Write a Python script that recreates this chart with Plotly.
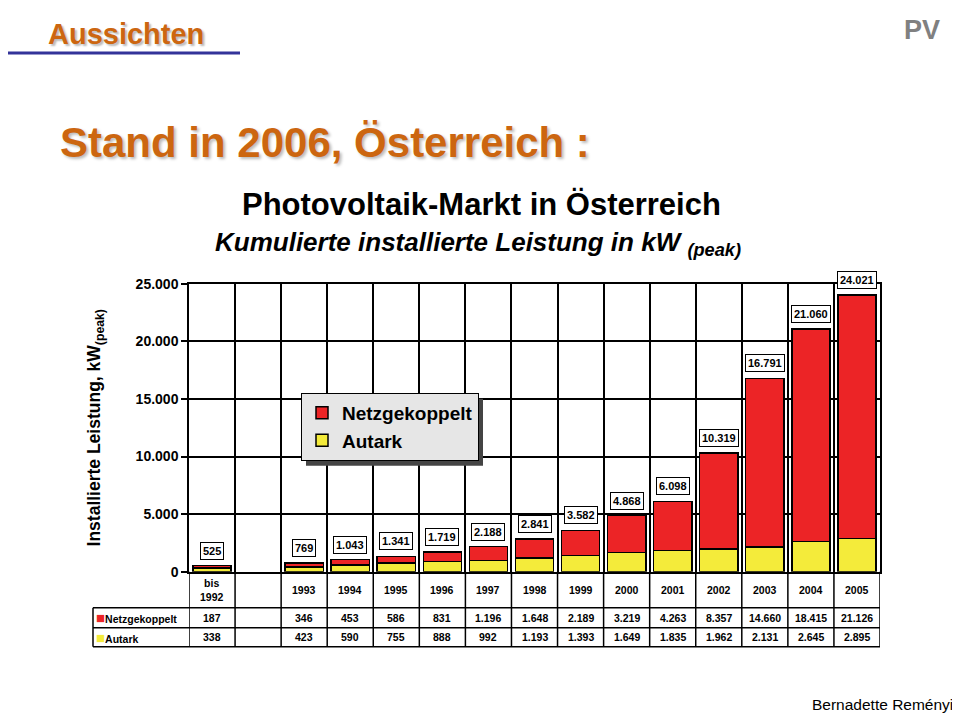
import plotly.graph_objects as go

categories = ["bis<br>1992", "", "1993", "1994", "1995", "1996", "1997", "1998",
              "1999", "2000", "2001", "2002", "2003", "2004", "2005"]
netzgekoppelt = [187, None, 346, 453, 586, 831, 1196, 1648, 2189, 3219, 4263,
                 8357, 14660, 18415, 21126]
autark = [338, None, 423, 590, 755, 888, 992, 1193, 1393, 1649, 1835, 1962,
          2131, 2645, 2895]
ytick_vals = [0, 5000, 10000, 15000, 20000, 25000]
ytick_text = ["0", "5.000", "10.000", "15.000", "20.000", "25.000"]

RED = "#EC2426"
YEL = "#F4EB3A"
ORANGE = "#CC6610"
FONT = "Arial, Liberation Sans, sans-serif"

W, H, OFF = 952, 712, 8


def px(x):
    return (x - OFF) / W


def py(y):
    # calibrated mapping from target pixel row to paper fraction
    return 1 - ((y - 7.2) / 0.978 - OFF) / H


def de(v):
    return "" if v is None else f"{v:,}".replace(",", ".")


xs = list(range(len(categories)))
totals = [None if a is None else a + n for a, n in zip(autark, netzgekoppelt)]

fig = go.Figure()
fig.add_trace(go.Bar(x=xs, y=autark, name="Autark",
                     marker=dict(color=YEL, line=dict(color="black", width=1.5)), width=0.83))
fig.add_trace(go.Bar(x=xs, y=netzgekoppelt, name="Netzgekoppelt",
                     marker=dict(color=RED, line=dict(color="black", width=1.5)), width=0.83))

X0, X1 = px(189), px(880)
Y0, Y1 = py(571), py(283)
T_HDR = py(607)
T_R1 = py(627)
T_R2 = py(646)
LBL_L = px(93)

annotations = []
shapes = []

# total labels
for x, t in zip(xs, totals):
    if t is None:
        continue
    annotations.append(dict(x=x, y=t, xref="x", yref="y", text=de(t), showarrow=False,
                            yanchor="bottom", yshift=6,
                            font=dict(family=FONT, size=11, color="black", weight="bold"),
                            bgcolor="white", bordercolor="black", borderwidth=1, borderpad=2))

# table cells
row_y = [(Y0 + T_HDR) / 2, (T_HDR + T_R1) / 2, (T_R1 + T_R2) / 2]
for x, c, n, a in zip(xs, categories, netzgekoppelt, autark):
    for txt, yy in ((c, row_y[0]), (de(n), row_y[1]), (de(a), row_y[2])):
        if txt:
            annotations.append(dict(x=x, y=yy, xref="x", yref="paper", text=txt, showarrow=False,
                                    xanchor="center", yanchor="middle",
                                    font=dict(family=FONT, size=10.5, color="black", weight="bold")))

for label, col, yy in (("Netzgekoppelt", RED, row_y[1]), ("Autark", YEL, row_y[2])):
    annotations.append(dict(x=LBL_L + 0.001, y=yy, xref="paper", yref="paper", xanchor="left",
                            yanchor="middle",
                            text=f"<span style='color:{col};font-size:15px'>■</span>{label}",
                            showarrow=False,
                            font=dict(family=FONT, size=10.5, color="black", weight="bold")))

# table lines
for i in range(len(categories) + 1):
    shapes.append(dict(type="line", xref="x", yref="paper", x0=i - 0.5, x1=i - 0.5, y0=T_R2, y1=Y0,
                       line=dict(color="black", width=1.5)))
for yy in (T_HDR, T_R1, T_R2):
    shapes.append(dict(type="line", xref="paper", yref="paper", x0=LBL_L, x1=X1, y0=yy, y1=yy,
                       line=dict(color="black", width=1.5)))
shapes.append(dict(type="line", xref="paper", yref="paper", x0=LBL_L, x1=LBL_L, y0=T_R2, y1=T_HDR,
                   line=dict(color="black", width=1.5)))

# legend shadow
shapes.append(dict(type="rect", xref="paper", yref="paper", x0=px(306), x1=px(483),
                   y0=py(465), y1=py(398), fillcolor="#444", line=dict(width=0), layer="above"))

# slide texts
annotations += [
    dict(x=px(46), y=py(33), xref="paper", yref="paper", xanchor="left", yanchor="middle",
         text="Aussichten", showarrow=False,
         font=dict(family=FONT, size=29, color=ORANGE, weight="bold", shadow="2px 2px 2px #bbb")),
    dict(x=px(942), y=py(29), xref="paper", yref="paper", xanchor="right", yanchor="middle",
         text="PV", showarrow=False,
         font=dict(family=FONT, size=27, color="#808080", weight="bold")),
    dict(x=px(58), y=py(142), xref="paper", yref="paper", xanchor="left", yanchor="middle",
         text="Stand in 2006, Österreich :", showarrow=False,
         font=dict(family=FONT, size=42, color=ORANGE, weight="bold", shadow="2px 2px 3px #bbb")),
    dict(x=px(481), y=py(204), xref="paper", yref="paper", xanchor="center", yanchor="middle",
         text="Photovoltaik-Markt in Österreich", showarrow=False,
         font=dict(family=FONT, size=31, color="black", weight="bold")),
    dict(x=px(478), y=py(243), xref="paper", yref="paper", xanchor="center", yanchor="middle",
         text="<i>Kumulierte installierte Leistung in kW <sub>(peak)</sub></i>", showarrow=False,
         font=dict(family=FONT, size=26, color="black", weight="bold")),
    dict(x=px(955), y=py(704), xref="paper", yref="paper", xanchor="right", yanchor="middle",
         text="Bernadette Reményi", showarrow=False,
         font=dict(family=FONT, size=15.5, color="black")),
]
shapes.append(dict(type="line", xref="paper", yref="paper", x0=px(0), x1=px(240), y0=py(52),
                   y1=py(52), line=dict(color="#333399", width=3)))

fig.update_layout(
    width=W, height=H, margin=dict(l=0, r=0, t=0, b=0),
    paper_bgcolor="white", plot_bgcolor="white",
    barmode="stack",
    showlegend=True,
    legend=dict(x=px(301), y=py(392), xanchor="left", yanchor="top",
                traceorder="reversed", bgcolor="#e6e6e6", bordercolor="black", borderwidth=1,
                font=dict(family=FONT, size=19, color="black", weight="bold"),
                itemwidth=30, tracegroupgap=0),
    xaxis=dict(domain=[X0, X1], range=[-0.5, len(categories) - 0.5],
               tickvals=[i - 0.5 for i in range(len(categories) + 1)], showticklabels=False,
               ticks="", showgrid=True, gridcolor="black", gridwidth=1.5,
               showline=True, linecolor="black", linewidth=1.5, mirror=True, zeroline=False),
    yaxis=dict(domain=[Y0, Y1], range=[0, 25000], tickvals=ytick_vals, ticktext=ytick_text,
               ticks="outside", ticklen=6, tickcolor="black", tickwidth=1.5,
               tickfont=dict(family=FONT, size=14, color="black", weight="bold"),
               showgrid=True, gridcolor="black", gridwidth=1.5,
               showline=True, linecolor="black", linewidth=1.5, mirror=True, zeroline=False,
               title=dict(text="Installierte Leistung, kW<sub>(peak)</sub>", standoff=30,
                          font=dict(family=FONT, size=17.5, color="black", weight="bold"))),
    annotations=annotations, shapes=shapes,
)

fig.write_html("out.html")
